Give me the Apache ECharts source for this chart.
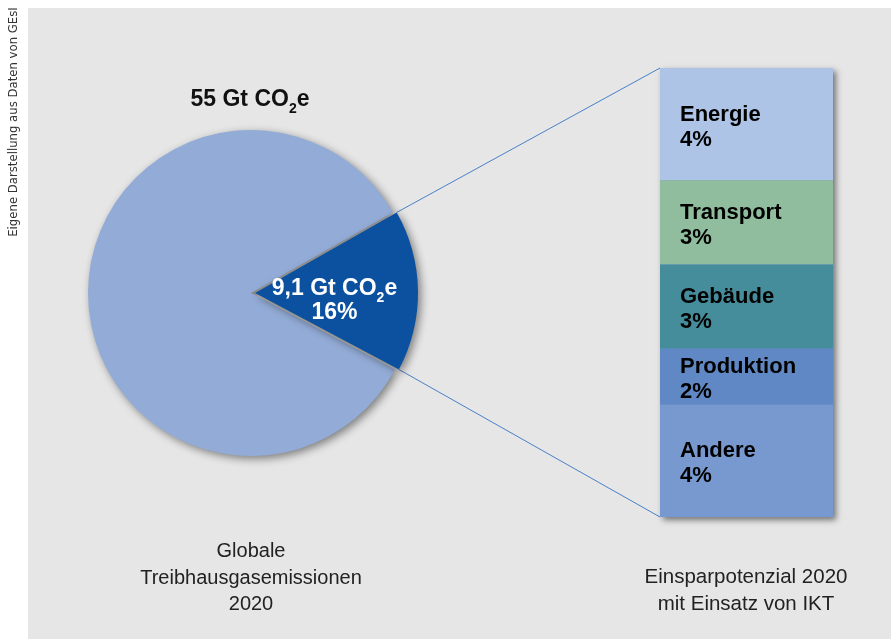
<!DOCTYPE html>
<html>
<head>
<meta charset="utf-8">
<script src="https://cdn.jsdelivr.net/npm/echarts@6/dist/echarts.min.js"></script>
<style>
  html, body { margin: 0; padding: 0; background: #fff; }
  #chart { width: 891px; height: 639px; }
</style>
</head>
<body>
<div id="chart"></div>
<script>
// Daten
const totalGt = 55;
const ictGt = 9.1;
const pieNames = ['Übrige Emissionen', 'Einsparpotenzial IKT'];
const pieValues = [84, 16];
const categories = ['Energie', 'Transport', 'Gebäude', 'Produktion', 'Andere'];
const shares = [4, 3, 3, 2, 4];
const leftCaption = ['Globale', 'Treibhausgasemissionen', '2020'];
const rightCaption = ['Einsparpotenzial 2020', 'mit Einsatz von IKT'];
const sourceNote = 'Eigene Darstellung aus Daten von GEsI';

const barColors = ['#adc4e7', '#8fbd9e', '#468d9c', '#5f88c5', '#7899cf'];
const pieColors = ['#93acd7', '#0b519f'];
const FONT = '"Liberation Sans", Arial, sans-serif';

const pieCenter = [251, 293];
const pieRadius = 163;
const pieStart = 332;      // Grad, Uhrzeigersinn
const explode = 4;

const chart = echarts.init(document.getElementById('chart'));

// CO2 mit tiefgestellter 2
const co2Rich = size => ({
  a: { fontFamily: FONT, fontWeight: 'bold', fontSize: size, lineHeight: 24 },
  s: { fontFamily: FONT, fontWeight: 'bold', fontSize: 14, lineHeight: 4, verticalAlign: 'bottom', padding: [0, 0, -4, 0] }
});
const fmt = v => String(v).replace('.', ',');

const barSeries = categories.map((name, i) => ({
  name: name,
  type: 'bar',
  stack: 'ikt',
  barWidth: '100%',
  data: [shares[i]],
  itemStyle: { color: barColors[i] },
  label: {
    show: true,
    position: 'insideLeft',
    distance: 20,
    offset: [0, 3],
    color: '#000',
    fontFamily: FONT,
    fontWeight: 'bold',
    fontSize: 22,
    lineHeight: 25,
    formatter: p => p.seriesName + '\n' + p.value + '%'
  },
  emphasis: { disabled: true }
}));

chart.setOption({
  animation: false,
  backgroundColor: '#fff',
  grid: { left: 660, top: 68, width: 173, height: 449 },
  xAxis: { type: 'category', data: ['IKT'], show: false },
  yAxis: { type: 'value', min: 0, max: 16, inverse: true, show: false },
  series: [{
    type: 'pie',
    center: pieCenter,
    radius: pieRadius,
    startAngle: pieStart,
    clockwise: true,
    selectedMode: 'single',
    selectedOffset: explode,
    emphasis: { disabled: true },
    labelLine: { show: false },
    data: pieValues.map((v, i) => ({
      name: pieNames[i],
      value: v,
      selected: i === 1,
      itemStyle: {
        color: pieColors[i],
        shadowBlur: 8,
        shadowOffsetX: 3,
        shadowOffsetY: 3,
        shadowColor: 'rgba(0,0,0,0.45)'
      },
      label: i === 1 ? {
        show: true,
        position: 'inside',
        color: '#fff',
        padding: [18, 10, 0, 0],
        formatter: p => '{a|' + fmt(ictGt) + ' Gt CO}{s|2}{a|e}\n{a|' + p.value + '%}',
        rich: co2Rich(23)
      } : { show: false }
    }))
  }].concat(barSeries)
});

// Verbindungslinien und Texte
const sum = pieValues.reduce((a, b) => a + b, 0);
const startRad = pieStart * Math.PI / 180;
const lightSpan = pieValues[0] / sum * 2 * Math.PI;
const darkFrom = startRad - lightSpan;
const darkTo = darkFrom - pieValues[1] / sum * 2 * Math.PI;
const darkMid = (darkFrom + darkTo) / 2;
const cx = pieCenter[0] + explode * Math.cos(darkMid);
const cy = pieCenter[1] - explode * Math.sin(darkMid);
const corner = a => [cx + pieRadius * Math.cos(a), cy - pieRadius * Math.sin(a)];
const upper = corner(darkFrom);
const lower = corner(darkTo);

const total = shares.reduce((a, b) => a + b, 0);
const barTop = chart.convertToPixel({ yAxisIndex: 0 }, 0);
const barBottom = chart.convertToPixel({ yAxisIndex: 0 }, total);
const barLeft = 660, barWidth = 173;

chart.setOption({
  graphic: [
    { type: 'rect', z: -10, shape: { x: 28, y: 8, width: 863, height: 631 }, style: { fill: '#e6e6e6' } },
    {
      type: 'rect', z: 0,
      shape: { x: barLeft, y: barTop, width: barWidth, height: barBottom - barTop },
      style: { fill: '#7899cf', shadowBlur: 6, shadowOffsetX: 3, shadowOffsetY: 3, shadowColor: 'rgba(0,0,0,0.5)' }
    },
    { type: 'line', z: 1, shape: { x1: upper[0], y1: upper[1], x2: barLeft, y2: barTop }, style: { stroke: '#4a80c8', lineWidth: 1 } },
    { type: 'line', z: 1, shape: { x1: lower[0], y1: lower[1], x2: barLeft, y2: barBottom }, style: { stroke: '#4a80c8', lineWidth: 1 } },
    {
      type: 'text', z: 5, x: 250, y: 100,
      style: {
        text: '{a|' + totalGt + ' Gt CO}{s|2}{a|e}', rich: co2Rich(23),
        fill: '#111', align: 'center', verticalAlign: 'middle'
      }
    },
    {
      type: 'text', z: 5, x: 251, y: 578,
      style: {
        text: leftCaption.join('\n'), fill: '#222', font: '20px ' + FONT, lineHeight: 26.5,
        align: 'center', verticalAlign: 'middle'
      }
    },
    {
      type: 'text', z: 5, x: 746, y: 591,
      style: {
        text: rightCaption.join('\n'), fill: '#222', font: '20.5px ' + FONT, lineHeight: 26.5,
        align: 'center', verticalAlign: 'middle'
      }
    },
    {
      type: 'text', z: 5, x: 14, y: 122, rotation: Math.PI / 2,
      style: {
        text: sourceNote, fill: '#333', font: '13px "DejaVu Sans Condensed", "Liberation Sans Narrow", sans-serif',
        align: 'center', verticalAlign: 'middle'
      }
    }
  ]
});
</script>
</body>
</html>
